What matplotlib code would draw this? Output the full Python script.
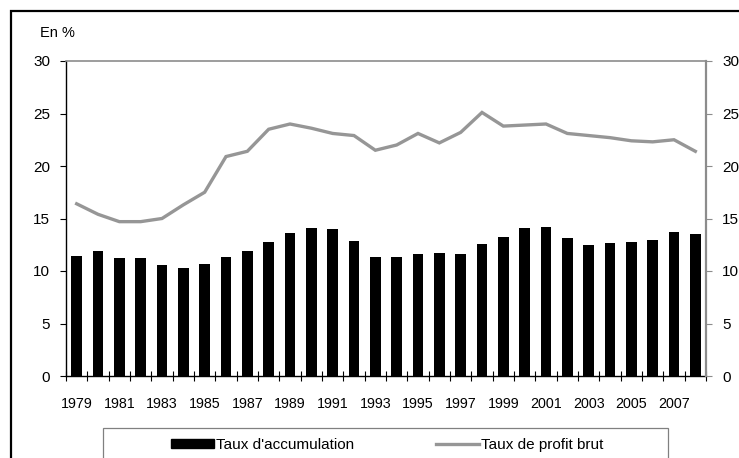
import matplotlib
matplotlib.use("Agg")
import matplotlib.pyplot as plt
from matplotlib.patches import Rectangle
from matplotlib.lines import Line2D
import numpy as np

years = list(range(1979, 2009))
taux_accumulation = [11.4, 11.9, 11.2, 11.2, 10.6, 10.3, 10.7, 11.3, 11.9, 12.8,
                     13.6, 14.1, 14.0, 12.9, 11.3, 11.3, 11.6, 11.7, 11.6, 12.6,
                     13.2, 14.1, 14.2, 13.1, 12.5, 12.7, 12.8, 13.0, 13.7, 13.5]
taux_profit_brut = [16.4, 15.4, 14.7, 14.7, 15.0, 16.3, 17.5, 20.9, 21.4, 23.5,
                    24.0, 23.6, 23.1, 22.9, 21.5, 22.0, 23.1, 22.2, 23.2, 25.1,
                    23.8, 23.9, 24.0, 23.1, 22.9, 22.7, 22.4, 22.3, 22.5, 21.4]
yticks = [0, 5, 10, 15, 20, 25, 30]
legend_labels = ["Taux d'accumulation", "Taux de profit brut"]

plt.rcParams['font.family'] = ['Liberation Sans', 'DejaVu Sans']
plt.rcParams['font.size'] = 10

W, H = 739, 458
fig = plt.figure(figsize=(W / 100, H / 100), dpi=100)
ax = fig.add_axes([66 / W, 1 - 376 / H, (706 - 66) / W, (376 - 61) / H])

x = np.arange(len(years))
ax.bar(x, taux_accumulation, width=0.5, color='black', zorder=2)
ax.plot(x, taux_profit_brut, color='#969696', lw=2.4, zorder=3, solid_joinstyle='miter')

ax.set_xlim(-0.5, len(years) - 0.5)
ax.set_ylim(0, 30)
ax.set_yticks(yticks)
ax.tick_params(axis='y', direction='out', length=4.5, width=0.8, colors='black', pad=7, labelsize=11)

ax.set_xticks(x[::2])
ax.set_xticklabels([str(y) for y in years[::2]])
ax.set_xticks(np.arange(-0.5, len(years) + 0.5, 1), minor=True)
ax.tick_params(axis='x', which='major', length=0, pad=15, labelsize=10.3)
ax.tick_params(axis='x', which='minor', direction='inout', length=7, width=0.8, color='black')

for s in ['left', 'bottom']:
    ax.spines[s].set_color('black')
    ax.spines[s].set_linewidth(1.0)
ax.spines['top'].set_color('#8c8c8c')
ax.spines['top'].set_linewidth(1.2)
ax.spines['right'].set_visible(False)

ax2 = ax.twinx()
ax2.set_ylim(0, 30)
ax2.set_yticks(yticks)
ax2.tick_params(axis='y', direction='out', length=4.5, width=0.8, color='#8c8c8c', labelcolor='black', pad=7, labelsize=11)
for s in ['left', 'top', 'bottom']:
    ax2.spines[s].set_visible(False)
ax2.spines['right'].set_color('#8c8c8c')
ax2.spines['right'].set_linewidth(1.6)

fig.text(40 / W, 1 - 33 / H, "En %", ha='left', va='center', fontsize=10.5)

# outer frame
fig.patches.append(Rectangle((11 / W, -0.1), 1.2, 1 - 11 / H + 0.1, transform=fig.transFigure,
                             fill=False, edgecolor='black', lw=1.6))
# legend box
fig.patches.append(Rectangle((103 / W, -0.1), (668 - 103) / W, 1 - 428 / H + 0.1, transform=fig.transFigure,
                             fill=False, edgecolor='#808080', lw=0.9))

handles = [Rectangle((0, 0), 1, 1, color='black'),
           Line2D([], [], color='#969696', lw=2.4)]
fig.legend(handles, legend_labels, loc='center', bbox_to_anchor=(387 / W, 1 - 445 / H),
           ncol=2, frameon=False, handlelength=2.8, handleheight=0.55, handletextpad=0.12,
           columnspacing=5.4, fontsize=11, borderaxespad=0)

fig.savefig("out.png", dpi=100)
